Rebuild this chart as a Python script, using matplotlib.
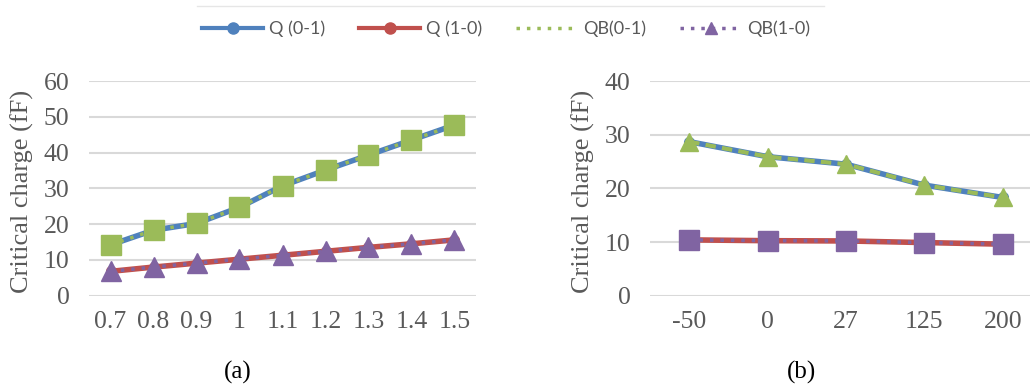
import matplotlib
matplotlib.use("Agg")
import matplotlib.pyplot as plt
from matplotlib.lines import Line2D

# panel (a): supply voltage
vdd_labels = ["0.7", "0.8", "0.9", "1", "1.1", "1.2", "1.3", "1.4", "1.5"]
q01_a = [14.2, 18.3, 20.2, 24.7, 30.7, 35.1, 39.3, 43.5, 47.7]
q10_a = [6.8, 8.0, 9.1, 10.2, 11.3, 12.4, 13.5, 14.5, 15.6]
qb01_a = [14.2, 18.3, 20.2, 24.7, 30.7, 35.1, 39.3, 43.5, 47.7]
qb10_a = [6.8, 8.0, 9.1, 10.2, 11.3, 12.4, 13.5, 14.5, 15.6]

# panel (b): temperature
temp_labels = ["-50", "0", "27", "125", "200"]
q01_b = [28.7, 25.9, 24.5, 20.6, 18.3]
q10_b = [10.4, 10.25, 10.2, 9.9, 9.6]
qb01_b = [28.7, 25.9, 24.5, 20.6, 18.3]
qb10_b = [10.4, 10.25, 10.2, 9.9, 9.6]

BLUE = "#4F81BD"
RED = "#C0504D"
GREEN = "#9BBB59"
PURPLE = "#8064A2"
GRAY = "#595959"
GRID = "#D9D9D9"

W, H = 1030, 385
fig = plt.figure(figsize=(W / 100, H / 100), dpi=100)


def px_axes(left, right, top, bottom):
    return fig.add_axes([left / W, 1 - bottom / H, (right - left) / W, (bottom - top) / H])


def style(ax, labels, ymax, ystep, label_x, letter, letter_x):
    ax.set_xlim(-0.5, len(labels) - 0.5)
    ax.set_ylim(0, ymax)
    ax.set_yticks(range(0, ymax + 1, ystep))
    ax.set_xticks(range(len(labels)))
    ax.set_xticklabels(labels)
    for s in ax.spines.values():
        s.set_visible(False)
    ax.tick_params(length=0, labelsize=18.5, labelcolor=GRAY, pad=11)
    ax.tick_params(axis="y", pad=14)
    for lab in ax.get_xticklabels() + ax.get_yticklabels():
        lab.set_family("Liberation Serif")
    ax.grid(axis="y", color=GRID, lw=1.5)
    ax.set_axisbelow(True)
    fig.text(label_x / W, 1 - 191 / H, "Critical charge (fF)", rotation=90,
             ha="center", va="center", family="Liberation Serif", fontsize=19, color=GRAY)
    fig.text(letter_x / W, 1 - 372 / H, letter, ha="center", va="center",
             family="Liberation Serif", fontsize=18, color="black")


# (a)
ax1 = px_axes(89, 476, 81, 295.7)
x1 = range(len(vdd_labels))
ax1.plot(x1, q01_a, color=BLUE, lw=4, marker="o", ms=7, zorder=3)
ax1.plot(x1, q10_a, color=RED, lw=4, marker="o", ms=7, zorder=3)
ax1.plot(x1, qb01_a, color=GREEN, lw=2.5, ls=(0, (1, 2)), marker="s", ms=14, zorder=4)
ax1.plot(x1, qb10_a, color=PURPLE, lw=2.5, ls=(0, (1, 2)), marker="^", ms=14, zorder=4)
style(ax1, vdd_labels, 60, 10, 22, "(a)", 238)

# (b)
ax2 = px_axes(650, 1042, 81, 295.7)
x2 = range(len(temp_labels))
ax2.plot(x2, q01_b, color=BLUE, lw=4, marker="o", ms=7, zorder=3)
ax2.plot(x2, q10_b, color=RED, lw=4, marker="o", ms=7, zorder=3)
ax2.plot(x2, qb01_b, color=GREEN, lw=3, ls=(0, (2.5, 1.5)), marker="^", ms=13, zorder=4)
ax2.plot(x2, qb10_b, color=PURPLE, lw=2.5, ls=(0, (1, 2)), marker="s", ms=14, zorder=4)
style(ax2, temp_labels, 40, 10, 583, "(b)", 802)

# legend
handles = [
    Line2D([], [], color=BLUE, lw=3, marker="o", ms=8),
    Line2D([], [], color=RED, lw=3, marker="o", ms=8),
    Line2D([], [], color=GREEN, lw=2.5, ls=(0, (1, 2))),
    Line2D([], [], color=PURPLE, lw=2.5, ls=(0, (1, 2)), marker="^", ms=8),
]
leg = fig.legend(handles, ["Q (0-1)", "Q (1-0)", "QB(0-1)", "QB(1-0)"], loc="center",
                 bbox_to_anchor=(506 / W, 1 - 29 / H), ncol=4, frameon=False,
                 handlelength=3.4, columnspacing=1.9, handletextpad=0.3,
                 prop={"family": "Lato", "size": 13})
for t in leg.get_texts():
    t.set_color(GRAY)
fig.add_artist(Line2D([197 / W, 824 / W], [1 - 6 / H, 1 - 6 / H], color="#E6E6E6", lw=1))

fig.savefig("out.png", dpi=100)
